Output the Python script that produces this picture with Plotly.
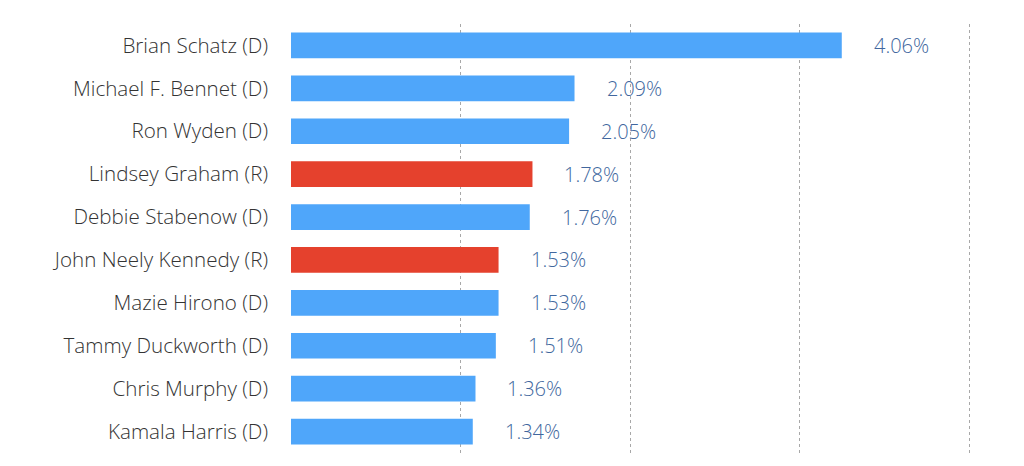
import plotly.graph_objects as go

senators = [
    "Brian Schatz (D)",
    "Michael F. Bennet (D)",
    "Ron Wyden (D)",
    "Lindsey Graham (R)",
    "Debbie Stabenow (D)",
    "John Neely Kennedy (R)",
    "Mazie Hirono (D)",
    "Tammy Duckworth (D)",
    "Chris Murphy (D)",
    "Kamala Harris (D)",
]
shares = [4.06, 2.09, 2.05, 1.78, 1.76, 1.53, 1.53, 1.51, 1.36, 1.34]
value_labels = ["4.06%", "2.09%", "2.05%", "1.78%", "1.76%", "1.53%", "1.53%", "1.51%", "1.36%", "1.34%"]
grid_ticks = [1.25, 2.5, 3.75, 5]

BLUE = "#4fa6fa"
RED = "#e5412d"
colors = [RED if s.endswith("(R)") else BLUE for s in senators]

fig = go.Figure()
fig.add_trace(go.Bar(
    x=shares,
    y=senators,
    orientation="h",
    marker=dict(color=colors, line=dict(width=0)),
    hoverinfo="skip",
))

for s, v, t in zip(senators, shares, value_labels):
    fig.add_annotation(
        x=v, y=s, text=t, showarrow=False,
        xanchor="left", yanchor="middle", xshift=30,
        font=dict(family="Open Sans", size=20, color="#41679e", weight=300),
    )

# page body has an 8px default margin, so the figure is sized/offset accordingly
fig.update_layout(
    width=1016, height=458,
    margin=dict(l=283, r=52, t=16, b=13),
    paper_bgcolor="white",
    plot_bgcolor="white",
    bargap=0.4,
    showlegend=False,
    font=dict(family="Open Sans"),
)
fig.update_xaxes(
    range=[0, 5.02],
    tickvals=grid_ticks,
    showticklabels=False,
    showgrid=True,
    gridcolor="#a8a8a8",
    griddash="dot",
    gridwidth=1,
    zeroline=False,
    showline=False,
    fixedrange=True,
)
fig.update_yaxes(
    categoryorder="array",
    categoryarray=senators,
    autorange="reversed",
    showgrid=False,
    zeroline=False,
    showline=False,
    ticks="",
    ticklabelstandoff=22,
    tickfont=dict(family="Open Sans", size=20.6, color="#333333", weight=300),
    automargin=False,
    fixedrange=True,
)

fig.write_html("out.html", config={"displayModeBar": False})
